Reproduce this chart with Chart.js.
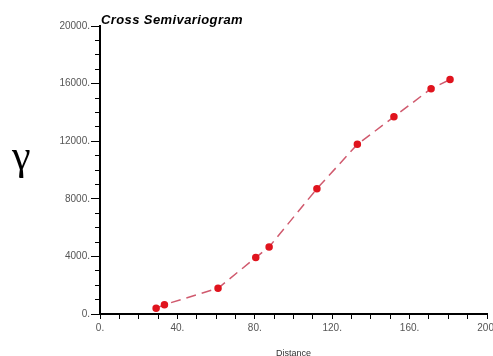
<!DOCTYPE html>
<html>
<head>
<meta charset="utf-8">
<script src="https://cdn.jsdelivr.net/npm/chart.js@4"></script>
<style>
  html, body { margin: 0; padding: 0; background: #fff; }
  #wrap { width: 493px; height: 356px; }
</style>
</head>
<body>
<div id="wrap"><canvas id="chart"></canvas></div>
<script>
// distance / semivariance
const distance = [29.0, 33.3, 61.0, 80.5, 87.4, 112.1, 133.0, 151.9, 171.1, 180.9];
const gamma = [400, 650, 1790, 3920, 4660, 8700, 11780, 13690, 15650, 16280];
const xTickLabels = [0, 40, 80, 120, 160, 200];
const yTickLabels = [0, 4000, 8000, 12000, 16000, 20000];

const titleText = "Cross Semivariogram";
const yTitle = "γ";
const xTitle = "Distance";

// free text: the title at top and the big gamma on the left
const textPlugin = {
  id: "freeText",
  afterDraw(chart) {
    const ctx = chart.ctx;
    ctx.save();
    ctx.fillStyle = "#000";
    ctx.textBaseline = "alphabetic";
    ctx.textAlign = "left";
    ctx.font = "italic bold 13px 'Liberation Sans', Arial, sans-serif";
    ctx.letterSpacing = "0.4px";
    ctx.fillText(titleText, 101, 24);
    ctx.letterSpacing = "0px";
    ctx.font = "42px 'Liberation Serif', 'Times New Roman', serif";
    ctx.fillText(yTitle, 12, 169);
    ctx.restore();
  }
};

new Chart(document.getElementById("chart"), {
  type: "line",
  data: {
    datasets: [{
      data: distance.map((d, i) => ({ x: d, y: gamma[i] })),
      borderColor: "#d05a6e",
      borderWidth: 1.5,
      borderDash: [10, 6],
      pointBackgroundColor: "#e0141e",
      pointBorderColor: "#e0141e",
      pointRadius: 3,
      pointHoverRadius: 3,
      tension: 0
    }]
  },
  options: {
    responsive: true,
    maintainAspectRatio: false,
    animation: false,
    layout: { padding: { top: 26, right: 6, left: 0, bottom: 0 } },
    plugins: {
      legend: { display: false },
      tooltip: { enabled: false }
    },
    scales: {
      x: {
        type: "linear",
        min: 0,
        max: 200,
        afterFit(s) { s.height = 42; s.paddingRight = 0; s.paddingLeft = 0; },
        border: { color: "#000", width: 2 },
        grid: {
          drawOnChartArea: false,
          drawTicks: true,
          tickLength: 5,
          tickColor: "#000",
          tickWidth: 1
        },
        ticks: {
          stepSize: 10,
          autoSkip: false,
          maxRotation: 0,
          padding: 3,
          color: "#555",
          font: { family: "'Liberation Sans', Arial, sans-serif", size: 10 },
          callback: v => xTickLabels.includes(v) ? v + "." : ""
        },
        title: {
          display: true,
          text: xTitle,
          color: "#333",
          font: { family: "'Liberation Sans', Arial, sans-serif", size: 9 },
          padding: { top: 0, bottom: -3 }
        }
      },
      y: {
        type: "linear",
        min: 0,
        max: 20000,
        afterFit(s) { s.width = 100; },
        border: { color: "#000", width: 2 },
        grid: {
          drawOnChartArea: false,
          drawTicks: true,
          tickLength: 9,
          tickColor: "#000",
          tickWidth: 1,
          tickBorderDash: ctx => yTickLabels.includes(ctx.tick && ctx.tick.value) ? [] : [0, 4, 6, 0]
        },
        ticks: {
          stepSize: 1000,
          autoSkip: false,
          padding: 1,
          color: "#555",
          font: { family: "'Liberation Sans', Arial, sans-serif", size: 10 },
          callback: v => yTickLabels.includes(v) ? v + "." : ""
        }
      }
    }
  },
  plugins: [textPlugin]
});
</script>
</body>
</html>
